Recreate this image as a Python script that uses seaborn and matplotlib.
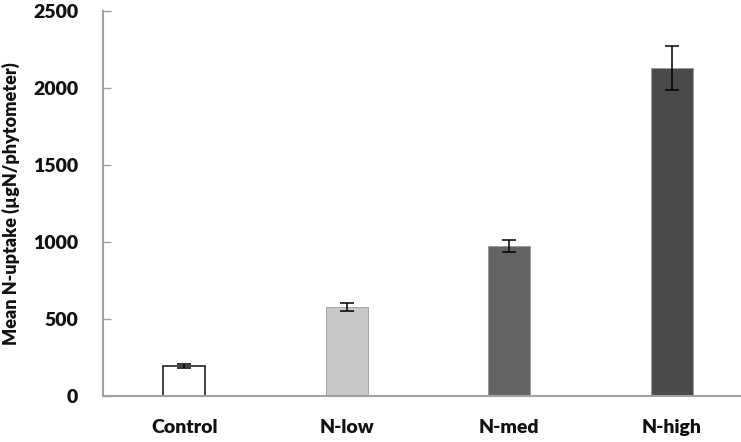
import matplotlib
matplotlib.use("Agg")
import matplotlib.pyplot as plt
import seaborn as sns
import pandas as pd

categories = ["Control", "N-low", "N-med", "N-high"]
means = [190, 578, 976, 2130]
errors = [13, 26, 39, 145]
colors = ["#ffffff", "#c8c8c8", "#646464", "#4a4a4a"]
yticks = [0, 500, 1000, 1500, 2000, 2500]

sns.set_theme(style="white")
plt.rcParams["font.family"] = ["Lato", "DejaVu Sans"]
plt.rcParams["font.weight"] = "bold"

df = pd.DataFrame({"cat": categories, "val": means})

W, H = 741, 442
fig = plt.figure(figsize=(W / 100, H / 100), dpi=100)
ax = fig.add_axes([103 / W, (H - 395.7) / H, 650 / W, (395.7 - 11) / H])

sns.barplot(data=df, x="cat", y="val", hue="cat", palette=colors, order=categories,
            hue_order=categories, legend=False, errorbar=None, width=0.26, ax=ax,
            saturation=1)
for p, c in zip(ax.patches, colors):
    if c == "#ffffff":
        p.set_edgecolor("#222222")
        p.set_linewidth(1.2)
    else:
        p.set_edgecolor("#999999")
        p.set_linewidth(0.6)

ax.errorbar(range(len(categories)), means, yerr=errors, fmt="none", ecolor="black",
            elinewidth=1.1, capsize=5, capthick=1.1)

ax.set_xlim(-0.5, 3.5)
ax.set_ylim(0, 2500)
ax.set_yticks(yticks)
ax.set_yticklabels([str(t) for t in yticks], fontsize=14, fontweight="heavy", color="#111111")
ax.set_xticks(range(len(categories)))
ax.set_xticklabels(categories, fontsize=14, fontweight="heavy", color="#111111")
ax.tick_params(axis="y", direction="in", length=6, width=1, color="#a0a0a0", left=True, pad=18)
ax.tick_params(axis="x", length=0, pad=17)
ax.set_xlabel("")
ax.set_ylabel("Mean N-uptake (µgN/phytometer)", fontsize=13, fontweight="heavy",
              color="#111111")
ax.yaxis.set_label_coords((20 - 103) / 650, 0.5)
for s in ["top", "right"]:
    ax.spines[s].set_visible(False)
for s in ["left", "bottom"]:
    ax.spines[s].set_color("#a0a0a0")
    ax.spines[s].set_linewidth(1.5)

fig.savefig("out.png", dpi=100)
